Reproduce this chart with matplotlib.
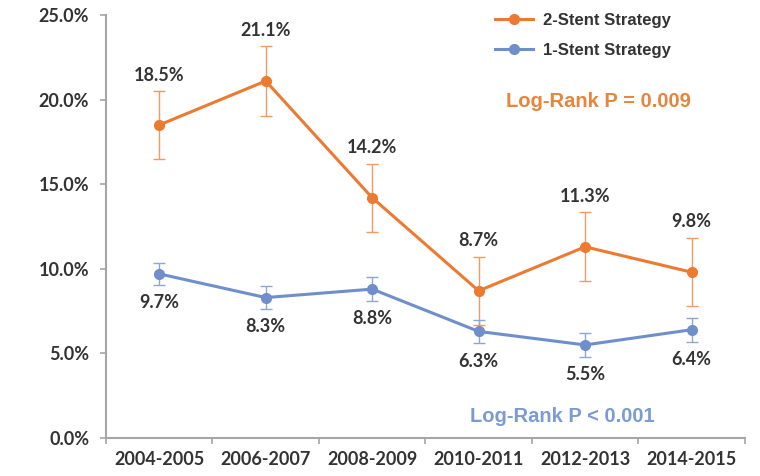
import matplotlib.pyplot as plt
from matplotlib.lines import Line2D
from matplotlib.ticker import FuncFormatter, MultipleLocator
import numpy as np

# Event rates by period, two treatment strategies
periods = ['2004-2005', '2006-2007', '2008-2009', '2010-2011', '2012-2013', '2014-2015']
two_stent = [18.5, 21.1, 14.2, 8.7, 11.3, 9.8]
two_stent_err = [2.0, 2.05, 2.0, 2.0, 2.05, 2.02]
one_stent = [9.7, 8.3, 8.8, 6.3, 5.5, 6.4]
one_stent_err = [0.66, 0.67, 0.7, 0.7, 0.7, 0.7]

ORANGE = '#EC7A30'
BLUE = '#6E8FCC'
TEXT = '#333333'
AXIS = '#A6A6A6'

fig = plt.figure(figsize=(7.6, 4.76), dpi=100)
ax = fig.add_axes([0.1395, 0.0798, 0.8405, 0.8887])

x = np.arange(len(periods))

ax.errorbar(x, two_stent, yerr=two_stent_err, color=ORANGE, lw=2.2, marker='o',
            markersize=7, elinewidth=1.0, capsize=4, capthick=1.0,
            ecolor='#EE9A66', zorder=3)
ax.errorbar(x, one_stent, yerr=one_stent_err, color=BLUE, lw=2.2, marker='o',
            markersize=7, elinewidth=1.0, capsize=4, capthick=1.0,
            ecolor='#8FA6CF', zorder=3)

# value labels: above the orange bars, below the blue ones
for xi, v, e in zip(x, two_stent, two_stent_err):
    ax.text(xi, v + e + 0.95, f'{v:.1f}%', ha='center', va='center',
            fontsize=13, fontweight='bold', color=TEXT, family='Lato')
for xi, v, e in zip(x, one_stent, one_stent_err):
    ax.text(xi, v - e - 1.05, f'{v:.1f}%', ha='center', va='center',
            fontsize=13, fontweight='bold', color=TEXT, family='Lato')

ax.text(3.26, 19.9, 'Log-Rank P = 0.009', color='#E8843C', fontsize=14.5,
        fontweight='bold', family='Liberation Sans', va='center')
ax.text(2.92, 1.3, 'Log-Rank P < 0.001', color='#7C9BD4', fontsize=14.5,
        fontweight='bold', family='Liberation Sans', va='center')

ax.set_xlim(-0.5, 5.5)
ax.set_ylim(0, 25)
ax.yaxis.set_major_locator(MultipleLocator(5))
ax.yaxis.set_major_formatter(FuncFormatter(lambda v, p: f'{v:.1f}%'))
ax.set_xticks(x)
ax.set_xticklabels(periods)
ax.set_xticks(np.arange(-0.5, 6.0, 1.0), minor=True)
ax.tick_params(axis='x', which='major', length=0, pad=9)
ax.tick_params(axis='x', which='minor', length=4, color=AXIS, width=1.2)
ax.tick_params(axis='y', length=4, color=AXIS, width=1.2, pad=8)

for lbl in ax.get_xticklabels() + ax.get_yticklabels():
    lbl.set_fontsize(13)
    lbl.set_fontweight('bold')
    lbl.set_color(TEXT)
    lbl.set_family('Lato')

for side in ['top', 'right']:
    ax.spines[side].set_visible(False)
for side in ['left', 'bottom']:
    ax.spines[side].set_color(AXIS)
    ax.spines[side].set_linewidth(1.5)

handles = [
    Line2D([], [], color=ORANGE, lw=2.2, marker='o', markersize=7),
    Line2D([], [], color=BLUE, lw=2.2, marker='o', markersize=7),
]
leg = ax.legend(handles, ['2-Stent Strategy', '1-Stent Strategy'],
                loc='upper left', bbox_to_anchor=(0.585, 1.04), frameon=False,
                handlelength=2.3, handletextpad=0.6, labelspacing=0.9,
                prop={'family': 'Liberation Sans', 'weight': 'bold', 'size': 12})
for t in leg.get_texts():
    t.set_color(TEXT)

fig.savefig('out.png', dpi=100, facecolor='white')
